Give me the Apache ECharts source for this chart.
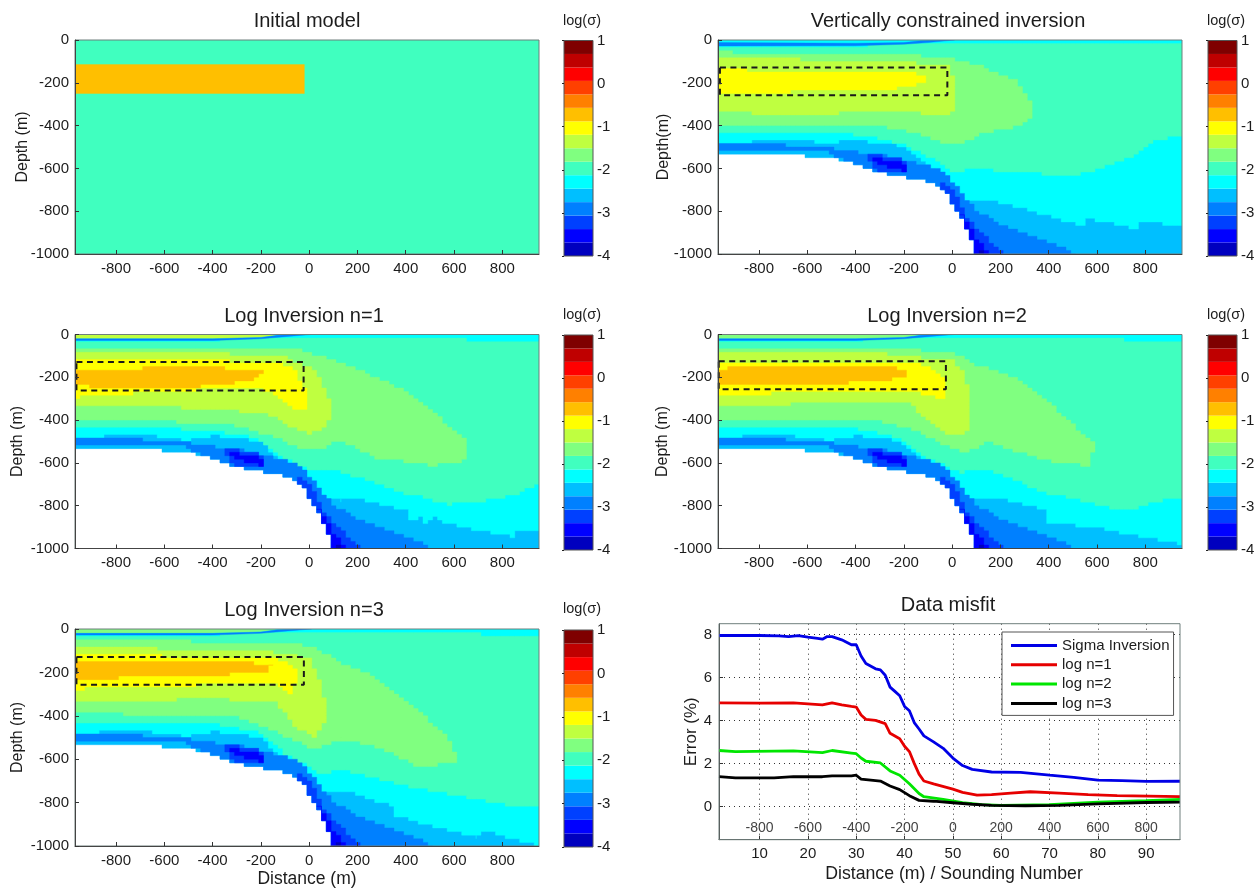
<!DOCTYPE html>
<html><head><meta charset="utf-8">
<style>html,body{margin:0;padding:0;background:#fff}#c{width:1259px;height:890px;filter:blur(0.6px)}</style>
<script src="https://cdn.jsdelivr.net/npm/echarts@6/dist/echarts.min.js"></script>
</head><body><div id="c"></div>
<script>
// ---------- shared scale data ----------
const jetColors=['#0000bf','#0000ff','#0040ff','#0080ff','#00bfff','#00ffff','#40ffbf','#80ff80','#bfff40','#ffff00','#ffbf00','#ff8000','#ff4000','#ff0000','#bf0000','#7f0000'];
const cbEdges=[-4,-3.6875,-3.375,-3.0625,-2.75,-2.4375,-2.125,-1.8125,-1.5,-1.1875,-0.875,-0.5625,-0.25,0.0625,0.375,0.6875,1];
const distTicks=[-800,-600,-400,-200,0,200,400,600,800];
const soundingTicks=[10,20,30,40,50,60,70,80,90];
const errorTicks=[0,2,4,6,8];
const distInnerLabels=['-800','-600','-400','-200','0','200','400','600','800'];

// ---------- bands shared by inversions (x m, depth m) ----------
const domain=[[-970,0],[952,0],[952,-1000],[100,-1000],[70,-906],[40,-829],[0,-766],[-20,-720],[-50,-680],[-100,-657],[-200,-637],[-300,-618],[-400,-575],[-500,-545],[-970,-530]];
const rim=[[-970,-486],[-730,-490],[-600,-495],[-500,-505],[-400,-525],[-330,-530],[-240,-550],[-180,-565],[-100,-590],[-50,-600],[-20,-630],[10,-680],[40,-720],[90,-790],[200,-864],[300,-900],[400,-945],[507,-1000],[100,-1000],[70,-906],[40,-829],[0,-766],[-20,-720],[-50,-680],[-100,-657],[-200,-637],[-300,-618],[-400,-575],[-480,-545],[-500,-525],[-970,-510]];
const deepEdge=[[-40,-670],[-10,-690],[30,-760],[60,-830],[100,-880],[150,-940],[215,-1000],[100,-1000],[70,-906],[40,-829],[0,-766],[-20,-720],[-50,-680]];
const deepPatch=[[-340,-530],[-240,-552],[-180,-570],[-190,-622],[-300,-610],[-340,-570]];
const deeperEdge=[[40,-810],[70,-870],[100,-930],[130,-960],[150,-1000],[100,-1000],[70,-906]];
const deeperPatch=[[-330,-548],[-270,-565],[-190,-578],[-190,-610],[-260,-598],[-330,-568]];
const deepestEdge=[[105,-980],[130,-985],[135,-1000],[100,-1000]];
const surfaceBandVci=[[-970,-12],[-400,-15],[-200,-12],[-130,-4],[-50,0],[10,0],[-100,-12],[-200,-20],[-400,-27],[-970,-28]];
const surfaceBandLog=[[-970,-20],[-400,-20],[-200,-14],[-130,-4],[-50,0],[10,0],[-100,-10],[-200,-20],[-400,-28],[-970,-28]];
const surfaceCap=[[-970,0],[-190,0],[-140,-3],[-200,-13],[-400,-19],[-970,-19]];

// ---------- Initial model ----------
const initBackground=[[-970,0],[952,0],[952,-1000],[-970,-1000]];
const initBlock=[[-970,-115],[-20,-115],[-20,-250],[-970,-250]];

// ---------- Vertically constrained inversion ----------
const vciL5=[[-970,0],[-970,-486],[-730,-467],[-500,-478],[-400,-470],[-300,-480],[-200,-495],[-150,-548],[-66,-610],[-18,-688],[15,-735],[97,-750],[154,-746],[342,-805],[555,-875],[555,-832],[768,-883],[775,-844],[952,-870],[952,0]];
const vciL6=[[-970,-32],[-600,-30],[-200,-22],[-100,-12],[0,-15],[200,-15],[952,-20],[952,-447],[849,-470],[751,-548],[555,-623],[400,-640],[391,-626],[97,-603],[0,-618],[-67,-564],[-182,-494],[-312,-455],[-476,-431],[-970,-439]];
const vciL7=[[-970,-58],[-312,-62],[-150,-73],[0,-89],[130,-128],[260,-190],[317,-268],[334,-361],[260,-408],[146,-431],[31,-486],[-34,-478],[-150,-431],[-312,-400],[-640,-392],[-970,-400]];
const vciL8=[[-970,-89],[-476,-93],[-247,-93],[-116,-112],[-18,-120],[15,-190],[15,-338],[-34,-354],[-150,-338],[-312,-338],[-640,-346],[-970,-338]];
const vciL9=[[-970,-140],[-149,-151],[-108,-187],[-149,-218],[-247,-228],[-970,-252]];

// ---------- Log inversion n=1 ----------
const n1L5=[[-970,0],[-970,-483],[-690,-465],[-510,-496],[-412,-473],[-298,-480],[-200,-504],[-134,-574],[-52,-636],[13,-730],[78,-761],[127,-777],[177,-761],[406,-824],[420,-875],[470,-840],[480,-880],[530,-850],[545,-878],[848,-948],[855,-909],[952,-925],[952,0]];
const n1L6=[[-970,-28],[-400,-26],[-200,-20],[-100,-12],[0,-12],[200,-15],[952,-32],[952,-699],[905,-722],[848,-753],[717,-777],[586,-792],[357,-730],[111,-628],[13,-636],[-100,-574],[-216,-480],[-412,-449],[-650,-434],[-970,-441]];
const n1L7=[[-970,-59],[-298,-67],[-36,-75],[78,-114],[242,-184],[422,-278],[651,-496],[645,-590],[520,-613],[275,-574],[128,-496],[46,-535],[-20,-535],[-134,-480],[-298,-426],[-625,-402],[-970,-402]];
const n1L8=[[-970,-83],[-363,-90],[-100,-106],[29,-168],[87,-309],[80,-418],[13,-465],[-70,-434],[-150,-379],[-232,-363],[-542,-340],[-970,-340]];
const n1L9=[[-970,-122],[-134,-126],[-60,-170],[-11,-270],[-11,-348],[-70,-340],[-134,-278],[-232,-247],[-600,-265],[-970,-293]];
const n1L10=[[-970,-168],[-640,-157],[-363,-157],[-183,-176],[-232,-215],[-460,-243],[-640,-254],[-970,-239]];

// ---------- Log inversion n=2 ----------
const n2L5=[[-970,0],[-970,-483],[-720,-465],[-510,-496],[-410,-473],[-295,-480],[-215,-504],[-130,-574],[-50,-644],[15,-738],[80,-761],[178,-761],[391,-824],[400,-878],[600,-905],[610,-880],[640,-917],[952,-980],[952,0]];
const n2L6=[[-970,-28],[-400,-26],[-200,-20],[-100,-12],[0,-12],[200,-15],[952,-30],[952,-770],[882,-769],[718,-824],[391,-738],[146,-630],[31,-644],[-100,-574],[-215,-480],[-395,-441],[-970,-441]];
const n2L7=[[-970,-59],[-300,-65],[0,-83],[97,-145],[260,-200],[407,-324],[588,-512],[570,-613],[407,-590],[260,-543],[146,-496],[64,-551],[-34,-512],[-165,-441],[-312,-402],[-970,-402]];
const n2L8=[[-970,-83],[-300,-88],[0,-122],[56,-192],[72,-340],[64,-457],[-18,-465],[-84,-418],[-165,-324],[-640,-324],[-970,-337]];
const n2L9=[[-970,-128],[-150,-137],[-84,-160],[-34,-205],[-34,-301],[-84,-290],[-150,-266],[-640,-262],[-840,-285],[-970,-285]];
const n2L10=[[-970,-160],[-690,-145],[-312,-145],[-182,-165],[-198,-203],[-476,-231],[-720,-234],[-970,-231]];

// ---------- Log inversion n=3 ----------
const n3L5=[[-970,0],[-970,-483],[-720,-465],[-510,-496],[-412,-473],[-298,-480],[-200,-504],[-134,-574],[-52,-636],[13,-735],[78,-754],[177,-754],[340,-815],[352,-862],[700,-962],[708,-926],[952,-1000],[952,0]];
const n3L6=[[-970,-28],[-400,-26],[-200,-20],[-100,-12],[0,-12],[200,-15],[952,-30],[952,-815],[815,-808],[406,-723],[160,-654],[46,-662],[-85,-585],[-200,-477],[-380,-438],[-970,-431]];
const n3L7=[[-970,-54],[-300,-60],[0,-77],[111,-146],[275,-223],[438,-369],[586,-515],[610,-615],[463,-638],[275,-538],[128,-508],[29,-554],[-134,-477],[-298,-408],[-970,-385]];
const n3L8=[[-970,-85],[-216,-100],[-3,-131],[46,-246],[70,-354],[62,-431],[21,-492],[-52,-454],[-134,-338],[-400,-320],[-970,-341]];
const n3L9=[[-970,-115],[-134,-138],[-52,-185],[-52,-231],[-77,-292],[-134,-254],[-232,-250],[-790,-270],[-970,-277]];
const n3L10=[[-970,-146],[-380,-146],[-150,-166],[-183,-197],[-461,-220],[-970,-228]];

// ---------- dashed target outlines ----------
const vciBox=[[-962,-128],[-20,-128],[-20,-258],[-962,-258],[-962,-128]];
const n1Box=[[-964,-129],[-23,-129],[-23,-262],[-964,-262],[-964,-129]];
const n2Box=[[-967,-125],[-26,-125],[-26,-256],[-967,-256],[-967,-125]];
const n3Box=[[-964,-129],[-22,-129],[-22,-257],[-964,-257],[-964,-129]];

// ---------- Data misfit (sounding, error %) ----------
const sigmaMisfit=[[1.6,7.95],[5,7.95],[10,7.95],[14,7.93],[16,7.9],[18,7.95],[20,7.88],[22,7.82],[23,7.78],[24,7.9],[25,7.9],[27,7.75],[29,7.52],[30,7.52],[31,7],[32,6.65],[34,6.4],[35,6.35],[36,6.1],[37,5.55],[38,5.35],[39,5.15],[40,4.65],[41,4.45],[42,3.9],[43,3.6],[44,3.28],[46,3],[48,2.7],[50,2.25],[52,1.9],[54,1.72],[58,1.6],[64,1.58],[70,1.45],[75,1.35],[80,1.22],[85,1.2],[90,1.16],[97,1.17]];
const logN1Misfit=[[1.6,4.82],[10,4.8],[17,4.82],[20,4.77],[23,4.72],[25,4.82],[27,4.72],[29,4.65],[30,4.62],[31,4.25],[32,4.05],[34,4],[36,3.85],[37,3.4],[39,3.15],[40,2.8],[41,2.55],[42,2],[43,1.5],[44,1.18],[46,1.05],[50,0.8],[52,0.65],[55,0.52],[58,0.55],[62,0.62],[66,0.68],[72,0.62],[78,0.55],[84,0.5],[97,0.45]];
const logN2Misfit=[[1.6,2.6],[5,2.55],[17,2.58],[23,2.5],[25,2.6],[29,2.48],[30,2.45],[31,2.25],[32,2.1],[35,2.02],[37,1.65],[39,1.45],[41,1.05],[43,0.6],[44,0.45],[48,0.33],[52,0.18],[56,0.08],[60,0.05],[70,0.08],[80,0.2],[90,0.27],[97,0.33]];
const logN3Misfit=[[1.6,1.38],[5,1.33],[13,1.33],[17,1.38],[23,1.38],[25,1.42],[29,1.42],[30,1.45],[31,1.27],[35,1.18],[37,0.95],[39,0.78],[41,0.5],[43,0.28],[46,0.24],[50,0.17],[54,0.1],[58,0.05],[65,0.03],[72,0.05],[80,0.12],[90,0.18],[97,0.2]];

// ---------- panels ----------
const commonDeep=[[3,rim],[2,deepEdge],[2,deepPatch],[1,deeperEdge],[1,deeperPatch],[0,deepestEdge]];
const panels=[
 {title:'Initial model',yName:'Depth (m)',g:[75,40,464,214],cb:[564,40.5,29,215.5],tc:307,ty:11,hd:21,layers:[[6,initBackground],[10,initBlock]],nameGap:44},
 {title:'Vertically constrained inversion',yName:'Depth(m)',g:[718,40,464,214],cb:[1208,40.5,29,215.5],tc:948,ty:11,hd:21,nameGap:46,box:vciBox,
  layers:[[4,domain],[5,vciL5],[6,vciL6],[7,vciL7],[8,vciL8],[9,vciL9],...commonDeep,[3,surfaceBandVci]]},
 {title:'Log Inversion n=1',yName:'Depth (m)',g:[75,334.5,464,214],cb:[564,335,29,215],tc:304,ty:306,hd:315,nameGap:49,box:n1Box,
  layers:[[4,domain],[5,n1L5],[6,n1L6],[7,n1L7],[8,n1L8],[9,n1L9],[10,n1L10],...commonDeep,[8,surfaceCap],[3,surfaceBandLog]]},
 {title:'Log Inversion n=2',yName:'Depth (m)',g:[718,334.5,464,214],cb:[1208,335,29,215],tc:947,ty:306,hd:315,nameGap:47,box:n2Box,
  layers:[[4,domain],[5,n2L5],[6,n2L6],[7,n2L7],[8,n2L8],[9,n2L9],[10,n2L10],...commonDeep,[7,surfaceCap],[3,surfaceBandLog]]},
 {title:'Log Inversion n=3',yName:'Depth (m)',g:[75,629,464,217],cb:[564,630,29,217],tc:304,ty:600,hd:609,nameGap:49,box:n3Box,xName:'Distance (m)',
  layers:[[4,domain],[5,n3L5],[6,n3L6],[7,n3L7],[8,n3L8],[9,n3L9],[10,n3L10],...commonDeep,[7,surfaceCap],[3,surfaceBandLog]]}
];
const plainShapes=[initBackground,initBlock,surfaceBandVci,surfaceBandLog,surfaceCap];

// Model cells are blocks; walk each read outline along the cell lattice so edges show as steps.
const CELL_X=20.02, CELL_Y=16.67;
function onCells(poly){
  const out=[];let lx=null,ly=null;
  const snap=(x,y)=>[-970+Math.round((x+970)/CELL_X)*CELL_X,Math.round(y/CELL_Y)*CELL_Y];
  poly.forEach((a,i)=>{const b=poly[(i+1)%poly.length];
    const n=Math.max(1,Math.ceil(Math.max(Math.abs(b[0]-a[0]),Math.abs(b[1]-a[1]))/5));
    for(let k=0;k<n;k++){const s=snap(a[0]+(b[0]-a[0])*k/n,a[1]+(b[1]-a[1])*k/n);
      if(lx===null){out.push(s);}else if(s[0]!==lx||s[1]!==ly){if(s[0]!==lx&&s[1]!==ly)out.push([s[0],ly]);out.push(s);}
      lx=s[0];ly=s[1];}
  });
  return out;
}
const FONT='"Liberation Sans",Arial,sans-serif', TXT='#1c1c1c';
const grids=[],xAxes=[],yAxes=[],series=[],titles=[];
function addGrid(r){grids.push({left:r[0],top:r[1],width:r[2],height:r[3],show:true,outerBoundsMode:'none',containLabel:false,borderColor:'#6f7f7d',borderWidth:1,backgroundColor:'transparent',z:5});return grids.length-1;}
const tick={show:true,inside:true,length:4,lineStyle:{color:'#333',width:1}};

panels.forEach(p=>{
  const gi=addGrid(p.g);
  const shapes=p.layers.map(l=>plainShapes.includes(l[1])?l[1]:onCells(l[1]));
  xAxes.push({gridIndex:gi,type:'value',min:-970,max:952,z:6,
    axisLine:{show:true,onZero:false,lineStyle:{color:'#444'}},
    axisTick:{...tick,customValues:distTicks},
    axisLabel:{customValues:distTicks,color:TXT,fontSize:15,fontFamily:FONT,margin:7,formatter:v=>String(v)},
    splitLine:{show:false},
    name:p.xName||'',nameLocation:'middle',nameGap:24,nameMoveOverlap:false,nameTextStyle:{fontSize:17.5,color:TXT,fontFamily:FONT}});
  yAxes.push({gridIndex:gi,type:'value',min:-1000,max:0,interval:200,z:6,
    axisLine:{show:true,onZero:false,lineStyle:{color:'#444'}},
    axisTick:{...tick},
    axisLabel:{color:TXT,fontSize:15,fontFamily:FONT,margin:6,formatter:v=>String(v)},
    splitLine:{show:false},
    name:p.yName,nameLocation:'middle',nameGap:p.nameGap,nameRotate:90,nameMoveOverlap:false,nameTextStyle:{fontSize:16,color:TXT,fontFamily:FONT}});
  series.push({type:'custom',xAxisIndex:gi,yAxisIndex:gi,clip:true,silent:true,
    encode:{x:0,y:1},data:p.layers.map((l,i)=>[0,0,i]),
    renderItem:(params,api)=>{const i=params.dataIndex,c=jetColors[p.layers[i][0]];
      return {type:'polygon',shape:{points:shapes[i].map(v=>api.coord(v))},style:{fill:c,stroke:c,lineWidth:0.4}};}});
  if(p.box) series.push({type:'line',xAxisIndex:gi,yAxisIndex:gi,data:p.box,symbol:'none',silent:true,z:4,
    lineStyle:{color:'#1a1a1a',width:2,type:[6,4.5]}});
  titles.push({text:p.title,left:p.tc,top:p.ty,padding:0,textAlign:'center',textStyle:{fontSize:20,fontWeight:'normal',color:TXT,fontFamily:FONT}});
  // colour bar
  const ci=addGrid(p.cb);
  grids[ci].borderColor='#555';
  xAxes.push({gridIndex:ci,type:'value',min:0,max:1,show:false});
  yAxes.push({gridIndex:ci,type:'value',min:-4,max:1,interval:1,position:'right',z:6,
    axisLine:{show:false},axisTick:{show:true,inside:true,length:2,lineStyle:{color:'#222'}},
    axisLabel:{color:TXT,fontSize:15,fontFamily:FONT,margin:4},splitLine:{show:false}});
  series.push({type:'custom',xAxisIndex:ci,yAxisIndex:ci,silent:true,encode:{x:0,y:1},
    data:jetColors.map((c,i)=>[0,cbEdges[i],i]),
    renderItem:(params,api)=>{const i=params.dataIndex,a=api.coord([0,cbEdges[i+1]]),b=api.coord([1,cbEdges[i]]);
      return {type:'rect',shape:{x:a[0],y:a[1],width:b[0]-a[0],height:b[1]-a[1]},style:{fill:jetColors[i]}};}});
  titles.push({text:'log(σ)',left:p.cb[0]+18,top:p.hd-8,padding:0,textAlign:'center',textStyle:{fontSize:14.5,fontWeight:'normal',color:TXT,fontFamily:FONT}});
});

// misfit panel
const mi=addGrid([719,623.7,461,216]);
xAxes.push({gridIndex:mi,type:'value',min:1.6,max:97,z:3,
  axisLine:{show:true,onZero:false,lineStyle:{color:'#444'}},
  axisTick:{...tick,customValues:soundingTicks},
  axisLabel:{customValues:soundingTicks,color:TXT,fontSize:15,fontFamily:FONT,margin:7},
  splitLine:{show:true,lineStyle:{type:[1,4],color:'#333',width:1}},
  name:'Distance (m) / Sounding Number',nameLocation:'middle',nameGap:25,nameMoveOverlap:false,nameTextStyle:{fontSize:17.7,color:TXT,fontFamily:FONT,padding:[0,0,0,9]}});
yAxes.push({gridIndex:mi,type:'value',min:-1.55,max:8.5,z:3,
  axisLine:{show:true,onZero:false,lineStyle:{color:'#444'}},
  axisTick:{...tick,customValues:errorTicks},
  axisLabel:{customValues:errorTicks,color:TXT,fontSize:15,fontFamily:FONT,margin:7},
  splitLine:{show:true,lineStyle:{type:[1,4],color:'#333',width:1}},
  name:'Error (%)',nameLocation:'middle',nameGap:19,nameRotate:90,nameMoveOverlap:false,nameTextStyle:{fontSize:17,color:TXT,fontFamily:FONT}});
[['Sigma Inversion',sigmaMisfit,'#0000e6'],['log n=1',logN1Misfit,'#e60000'],['log n=2',logN2Misfit,'#00e600'],['log n=3',logN3Misfit,'#000000']].forEach(s=>{
  series.push({type:'line',name:s[0],xAxisIndex:mi,yAxisIndex:mi,data:s[1],symbol:'none',silent:true,z:4,lineStyle:{color:s[2],width:2.8},itemStyle:{color:s[2]}});
});
series.push({type:'custom',xAxisIndex:mi,yAxisIndex:mi,silent:true,encode:{x:0,y:1},
  data:soundingTicks.map(s=>[s,-1]),
  renderItem:(params,api)=>{const c=api.coord([api.value(0),api.value(1)]);
    return {type:'text',x:c[0],y:c[1],style:{text:distInnerLabels[params.dataIndex],fill:'#444',fontSize:14,fontFamily:FONT,textAlign:'center',textVerticalAlign:'middle'}};}});
titles.push({text:'Data misfit',left:948,top:595,padding:0,textAlign:'center',textStyle:{fontSize:20,fontWeight:'normal',color:TXT,fontFamily:FONT}});

const chart=echarts.init(document.getElementById('c'),null,{renderer:'canvas'});
chart.setOption({animation:false,backgroundColor:'#fff',title:titles,grid:grids,xAxis:xAxes,yAxis:yAxes,series,tooltip:{show:false},
  legend:{show:true,z:10,data:['Sigma Inversion','log n=1','log n=2','log n=3'],orient:'vertical',left:1002,top:632,itemWidth:46,itemHeight:3,itemGap:3.3,padding:[5.5,4,4,9],
    backgroundColor:'#fff',borderColor:'#555',borderWidth:1,selectedMode:false,textStyle:{fontSize:15,color:TXT,fontFamily:FONT,lineHeight:16},icon:'rect'}});
</script></body></html>
